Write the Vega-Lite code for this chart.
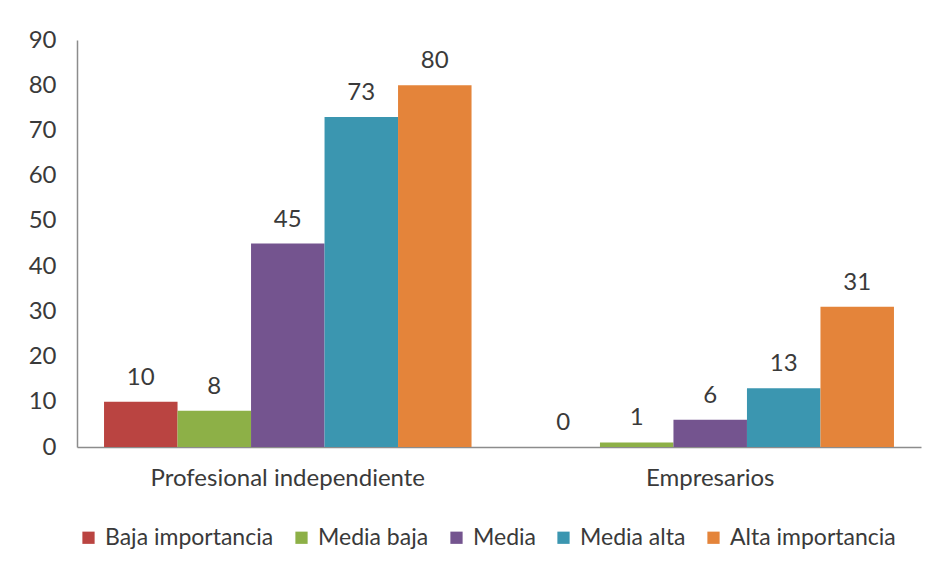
{
  "$schema": "https://vega.github.io/schema/vega-lite/v6.json",
  "autosize": {"type": "none"},
  "width": 844,
  "height": 407,
  "padding": {"left": 77, "top": 40, "right": 16, "bottom": 122},
  "background": "white",
  "config": {
    "view": {"stroke": null},
    "font": "Lato",
    "text": {"font": "Lato"}
  },
  "data": {
    "values": [
      {"grupo": "Profesional independiente", "nivel": "Baja importancia", "valor": 10},
      {"grupo": "Profesional independiente", "nivel": "Media baja", "valor": 8},
      {"grupo": "Profesional independiente", "nivel": "Media", "valor": 45},
      {"grupo": "Profesional independiente", "nivel": "Media alta", "valor": 73},
      {"grupo": "Profesional independiente", "nivel": "Alta importancia", "valor": 80},
      {"grupo": "Empresarios", "nivel": "Baja importancia", "valor": 0},
      {"grupo": "Empresarios", "nivel": "Media baja", "valor": 1},
      {"grupo": "Empresarios", "nivel": "Media", "valor": 6},
      {"grupo": "Empresarios", "nivel": "Media alta", "valor": 13},
      {"grupo": "Empresarios", "nivel": "Alta importancia", "valor": 31}
    ]
  },
  "encoding": {
    "x": {
      "field": "grupo", "type": "nominal",
      "sort": ["Profesional independiente", "Empresarios"],
      "scale": {"paddingInner": 0.13, "paddingOuter": 0.064},
      "axis": {"title": null, "labelAngle": 0, "labelFontSize": 24, "labelColor": "#3a3a3a", "labelLimit": 500,
               "labelFont": "Lato", "labelPadding": 19, "ticks": false, "domainColor": "#8c8c8c", "domainWidth": 1.5}
    },
    "xOffset": {
      "field": "nivel", "type": "nominal",
      "sort": ["Baja importancia", "Media baja", "Media", "Media alta", "Alta importancia"],
      "scale": {"paddingInner": 0, "paddingOuter": 0}
    },
    "y": {
      "field": "valor", "type": "quantitative",
      "scale": {"domain": [0, 90], "nice": false},
      "axis": {"title": null, "values": [0,10,20,30,40,50,60,70,80,90], "grid": false, "ticks": false,
               "labelFontSize": 24, "labelColor": "#3a3a3a", "labelFont": "Lato", "labelPadding": 21,
               "domainColor": "#8c8c8c", "domainWidth": 1.5}
    }
  },
  "layer": [
    {
      "mark": {"type": "bar"},
      "encoding": {
        "color": {
          "field": "nivel", "type": "nominal",
          "sort": ["Baja importancia", "Media baja", "Media", "Media alta", "Alta importancia"],
          "scale": {"domain": ["Baja importancia", "Media baja", "Media", "Media alta", "Alta importancia"],
                    "range": ["#BA4441", "#8DB047", "#74548F", "#3B96B0", "#E4843A"]},
          "legend": {"title": null, "orient": "bottom", "direction": "horizontal", "symbolType": "square",
                     "symbolSize": 150, "symbolStrokeWidth": 0, "labelFontSize": 23, "labelFont": "Lato", "labelColor": "#3a3a3a",
                     "columnPadding": 16, "labelOffset": 5, "offset": 36, "labelLimit": 400}
        }
      }
    },
    {
      "mark": {"type": "text", "baseline": "bottom", "dy": -12, "fontSize": 24, "color": "#3a3a3a", "font": "Lato"},
      "encoding": {"text": {"field": "valor", "type": "quantitative"}}
    }
  ]
}
